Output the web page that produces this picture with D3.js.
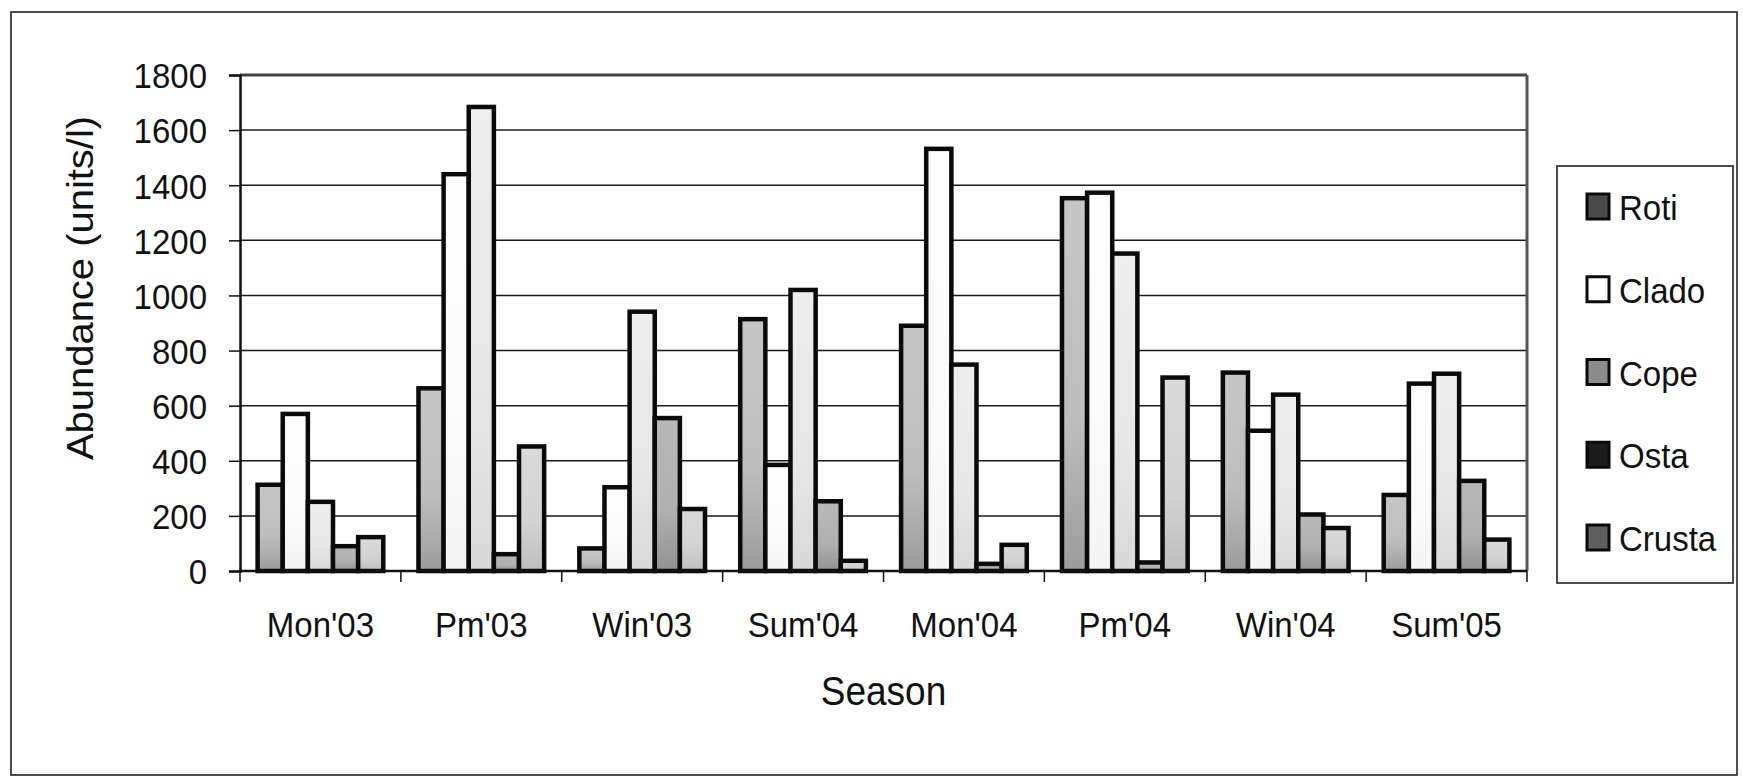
<!DOCTYPE html>
<html>
<head>
<meta charset="utf-8">
<script src="https://cdn.jsdelivr.net/npm/d3@7"></script>
<style>
  html, body { margin: 0; padding: 0; background: #ffffff; }
  svg { display: block; }
  text { font-family: "Liberation Sans", Arial, sans-serif; fill: #111; }
</style>
</head>
<body>
<svg id="chart" width="1743" height="777"></svg>
<script>
// ---- data ----
const categories = ["Mon'03", "Pm'03", "Win'03", "Sum'04", "Mon'04", "Pm'04", "Win'04", "Sum'05"];
const seriesNames = ["Roti", "Clado", "Cope", "Osta", "Crusta"];
const roti   = [313, 663, 82, 914, 890, 1353, 720, 276];
const clado  = [570, 1440, 304, 385, 1532, 1373, 509, 680];
const cope   = [251, 1684, 941, 1020, 749, 1152, 640, 716];
const osta   = [90, 61, 555, 253, 26, 31, 205, 327];
const crusta = [123, 452, 225, 37, 95, 702, 156, 114];
const yTicks = [0, 200, 400, 600, 800, 1000, 1200, 1400, 1600, 1800];
const yTitle = "Abundance (units/l)";
const xTitle = "Season";

const seriesValues = [roti, clado, cope, osta, crusta];

// ---- styles ----
const barTop    = ["#c6c6c6", "#fefefe", "#eeeeee", "#b8b8b8", "#dadada"];
const barMid    = ["#bdbdbd", "#fbfbfb", "#e8e8e8", "#b0b0b0", "#d3d3d3"];
const barBottom = ["#9c9c9c", "#f4f4f4", "#d8d8d8", "#929292", "#bdbdbd"];
const legendFill = ["#4a4a4a", "#ffffff", "#8c8c8c", "#1c1c1c", "#5e5e5e"];
const STRETCH = 1.08;

const svg = d3.select("#chart");
const plot = { left: 240, right: 1527, top: 75, bottom: 571 };

// outer frame
svg.append("rect")
  .attr("x", 11).attr("y", 12)
  .attr("width", 1726).attr("height", 763)
  .attr("fill", "#ffffff")
  .attr("stroke", "#222").attr("stroke-width", 1.6);

const x0 = d3.scaleBand().domain(categories).range([plot.left, plot.right]).paddingInner(0).paddingOuter(0);
const x1 = d3.scaleBand().domain(seriesNames).range([0, x0.bandwidth()]).paddingInner(0).paddingOuter(0.7);
const y = d3.scaleLinear().domain([0, 1800]).range([plot.bottom, plot.top]);

// gradients
const defs = svg.append("defs");
seriesNames.forEach((s, i) => {
  const g = defs.append("linearGradient").attr("id", "g" + i)
    .attr("x1", 0).attr("y1", 0).attr("x2", 0).attr("y2", 1);
  g.append("stop").attr("offset", "0%").attr("stop-color", barTop[i]);
  g.append("stop").attr("offset", "60%").attr("stop-color", barMid[i]);
  g.append("stop").attr("offset", "100%").attr("stop-color", barBottom[i]);
});

// gridlines
svg.append("g").selectAll("line")
  .data(yTicks.filter(t => t > 0 && t < 1800))
  .join("line")
  .attr("x1", plot.left).attr("x2", plot.right)
  .attr("y1", d => y(d)).attr("y2", d => y(d))
  .attr("stroke", "#1a1a1a").attr("stroke-width", 1.5);

// top & right plot border
svg.append("line").attr("x1", plot.left).attr("x2", plot.right)
  .attr("y1", y(1800)).attr("y2", y(1800))
  .attr("stroke", "#444").attr("stroke-width", 3);
svg.append("line").attr("x1", plot.right).attr("x2", plot.right)
  .attr("y1", y(1800)).attr("y2", y(0))
  .attr("stroke", "#555").attr("stroke-width", 3);

// bars
const groups = svg.append("g").selectAll("g")
  .data(categories)
  .join("g")
  .attr("transform", d => `translate(${x0(d)},0)`);

groups.selectAll("rect")
  .data((c, ci) => seriesNames.map((s, si) => ({ s, si, v: seriesValues[si][ci] })))
  .join("rect")
  .attr("x", d => x1(d.s))
  .attr("width", x1.bandwidth())
  .attr("y", d => y(d.v))
  .attr("height", d => y(0) - y(d.v))
  .attr("fill", d => `url(#g${d.si})`)
  .attr("stroke", "#0a0a0a")
  .attr("stroke-width", 4.5);

// y axis
const yAxis = svg.append("g")
  .attr("transform", `translate(${plot.left},0)`)
  .call(d3.axisLeft(y).tickValues(yTicks).tickSize(11).tickPadding(22).tickFormat(d3.format("d")));
yAxis.select(".domain").attr("stroke", "#111").attr("stroke-width", 2.5);
yAxis.selectAll(".tick line").attr("stroke", "#111").attr("stroke-width", 1.5);
yAxis.selectAll(".tick text")
  .attr("font-size", 33)
  .attr("font-family", "Liberation Sans, Arial, sans-serif")
  .attr("fill", "#111")
  .attr("dy", "0.36em")
  .attr("transform", `scale(1,${STRETCH})`);

// x axis
const xAxisScale = d3.scaleBand().domain(categories).range([plot.left, plot.right]);
const xAxis = svg.append("g")
  .attr("transform", `translate(0,${plot.bottom})`)
  .call(d3.axisBottom(xAxisScale).tickSize(0).tickPadding(0));
xAxis.select(".domain").remove();
xAxis.selectAll(".tick line").remove();
xAxis.selectAll(".tick text")
  .attr("font-size", 33)
  .attr("font-family", "Liberation Sans, Arial, sans-serif")
  .attr("fill", "#111")
  .attr("y", 61).attr("dy", 0)
  .attr("transform", `scale(1,${STRETCH})`);
// baseline + boundary ticks
svg.append("line").attr("x1", plot.left).attr("x2", plot.right)
  .attr("y1", y(0)).attr("y2", y(0))
  .attr("stroke", "#111").attr("stroke-width", 2.5);
const bounds = categories.map(c => x0(c)).concat([x0(categories[categories.length - 1]) + x0.bandwidth()]);
svg.append("g").selectAll("line").data(bounds).join("line")
  .attr("x1", d => d).attr("x2", d => d)
  .attr("y1", y(0)).attr("y2", y(0) + 11)
  .attr("stroke", "#111").attr("stroke-width", 1.5);

// axis titles
svg.append("text")
  .attr("transform", `translate(93,288) scale(1,${STRETCH}) rotate(-90)`)
  .attr("text-anchor", "middle")
  .attr("font-size", 37)
  .text(yTitle);
svg.append("text")
  .attr("transform", `translate(${(plot.left + plot.right) / 2},705) scale(1,${STRETCH})`)
  .attr("text-anchor", "middle")
  .attr("font-size", 37)
  .text(xTitle);

// legend
const lg = svg.append("g");
lg.append("rect").attr("x", 1557).attr("y", 166).attr("width", 176).attr("height", 417)
  .attr("fill", "#fff").attr("stroke", "#222").attr("stroke-width", 1.6);
const legendY = d3.scalePoint().domain(seriesNames).range([220, 551]);
const items = lg.selectAll("g.item").data(seriesNames).join("g").attr("class", "item");
items.append("rect")
  .attr("x", 1587).attr("y", d => legendY(d) - 26)
  .attr("width", 22).attr("height", 25)
  .attr("fill", (d, i) => legendFill[i])
  .attr("stroke", "#0a0a0a").attr("stroke-width", 3);
items.append("text")
  .attr("transform", d => `translate(1619,${legendY(d)}) scale(1,${STRETCH})`)
  .attr("font-size", 33)
  .text(d => d);
</script>
</body>
</html>
